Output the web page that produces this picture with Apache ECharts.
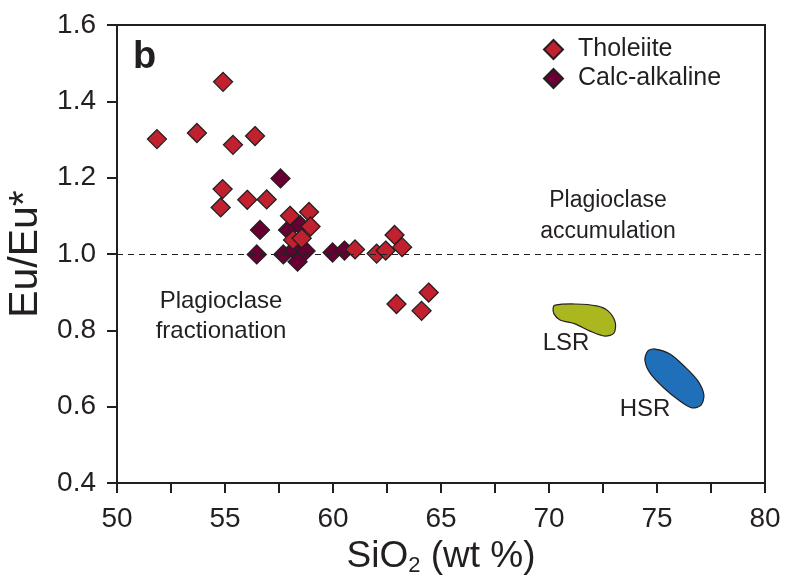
<!DOCTYPE html>
<html>
<head>
<meta charset="utf-8">
<script src="https://cdn.jsdelivr.net/npm/echarts@6/dist/echarts.min.js"></script>
<style>
  html, body { margin: 0; padding: 0; background: #fff; }
  #chart { width: 787px; height: 581px; }
</style>
</head>
<body>
<div id="chart"></div>
<script>
// SiO2 (wt %), Eu/Eu*
var tholeiite = [
  [51.85, 1.301], [53.70, 1.317], [54.91, 1.451], [55.37, 1.286], [56.39, 1.309],
  [54.89, 1.170], [54.80, 1.122], [56.03, 1.142], [56.93, 1.143],
  [58.01, 1.100], [58.89, 1.110], [58.96, 1.072], [58.15, 1.037], [58.55, 1.041],
  [61.02, 1.012], [62.02, 1.001], [62.44, 1.009], [62.85, 1.050], [63.20, 1.018],
  [62.94, 0.869], [64.10, 0.851], [64.43, 0.899]
];
var calcAlkaline = [
  [57.57, 1.198], [56.62, 1.063], [56.47, 0.999], [57.70, 0.999], [57.92, 1.063],
  [58.47, 1.076], [58.19, 1.011], [58.73, 1.008], [58.36, 0.980],
  [59.98, 1.004], [60.53, 1.009]
];
// outline of the LSR and HSR fields
var lsrField = [
  [70.28, 0.866], [71.20, 0.869], [72.21, 0.864], [72.73, 0.851], [73.06, 0.822],
  [73.01, 0.793], [72.59, 0.785], [71.90, 0.798], [71.20, 0.817], [70.51, 0.827],
  [70.23, 0.843], [70.19, 0.858]
];
var hsrField = [
  [74.91, 0.751], [75.60, 0.738], [76.30, 0.704], [76.90, 0.667], [77.17, 0.631],
  [77.04, 0.604], [76.62, 0.597], [76.06, 0.615], [75.32, 0.649], [74.68, 0.688],
  [74.44, 0.722], [74.58, 0.746]
];
var xTicks = [50, 55, 60, 65, 70, 75, 80];
var yTicks = [0.4, 0.6, 0.8, 1.0, 1.2, 1.4, 1.6];

var ink = "#231f20";
var font = "Liberation Sans, Arial, sans-serif";

function fieldSeries(name, pts, color) {
  return {
    name: name,
    type: "custom",
    silent: true,
    z: 1,
    renderItem: function (params, api) {
      if (params.dataIndex > 0) return;
      var points = pts.map(function (p) { return api.coord(p); });
      return {
        type: "polygon",
        shape: { points: points, smooth: 0.3 },
        style: { fill: color, stroke: ink, lineWidth: 1.2 }
      };
    },
    data: [0]
  };
}

var chart = echarts.init(document.getElementById("chart"));
chart.setOption({
  animation: false,
  textStyle: { fontFamily: font },
  grid: {
    left: 117, right: 22, top: 25, bottom: 98,
    containLabel: false, outerBoundsMode: "none",
    show: true, borderColor: ink, borderWidth: 2
  },
  legend: {
    orient: "vertical",
    left: 538, top: 32,
    itemWidth: 19, itemHeight: 19, itemGap: 4,
    icon: "diamond",
    data: ["Tholeiite", "Calc-alkaline"],
    textStyle: { fontSize: 25, color: ink, fontFamily: font, padding: [0, 0, 0, 10] }
  },
  xAxis: {
    type: "value", min: xTicks[0], max: xTicks[xTicks.length - 1], interval: 2.5,
    name: "{a|SiO}{s|2}{a| (wt %)}",
    nameLocation: "middle", nameGap: 42,
    nameTextStyle: {
      rich: {
        a: { fontSize: 37, color: ink, fontFamily: font },
        s: { fontSize: 22, color: ink, fontFamily: font, verticalAlign: "bottom", padding: [20, 0, 0, 0] }
      }
    },
    axisLine: { lineStyle: { color: ink, width: 2 } },
    axisTick: { inside: false, length: 10, lineStyle: { color: ink, width: 2 } },
    axisLabel: {
      fontSize: 28, color: ink, margin: 22,
      formatter: function (v) { return xTicks.indexOf(v) >= 0 ? String(v) : ""; }
    },
    splitLine: { show: false }
  },
  yAxis: {
    type: "value", min: yTicks[0], max: yTicks[yTicks.length - 1], interval: 0.2,
    name: "Eu/Eu*", nameLocation: "middle", nameGap: 66,
    nameTextStyle: { fontSize: 41, color: ink, fontFamily: font },
    axisLine: { lineStyle: { color: ink, width: 2 } },
    axisTick: { inside: false, length: 10, lineStyle: { color: ink, width: 2 } },
    axisLabel: {
      fontSize: 28, color: ink, margin: 21,
      formatter: function (v) { return v.toFixed(1); }
    },
    splitLine: { show: false }
  },
  graphic: [
    { type: "text", left: 133, top: 39, style: { text: "b", font: "bold 38px " + font, fill: ink } },
    { type: "text", x: 608, y: 216, style: { text: "Plagioclase\naccumulation", font: "23px " + font, fill: ink, align: "center", verticalAlign: "middle", lineHeight: 31 } },
    { type: "text", x: 221, y: 316, style: { text: "Plagioclase\nfractionation", font: "24px " + font, fill: ink, align: "center", verticalAlign: "middle", lineHeight: 30 } },
    { type: "text", x: 566, y: 343, style: { text: "LSR", font: "24px " + font, fill: ink, align: "center", verticalAlign: "middle" } },
    { type: "text", x: 645, y: 409, style: { text: "HSR", font: "24px " + font, fill: ink, align: "center", verticalAlign: "middle" } }
  ],
  series: [
    fieldSeries("LSR", lsrField, "#aab71f"),
    fieldSeries("HSR", hsrField, "#1f70b9"),
    {
      name: "Tholeiite",
      type: "scatter",
      symbol: "diamond",
      symbolSize: 19,
      z: 3,
      itemStyle: { color: "#c1202f", borderColor: ink, borderWidth: 1.3, opacity: 1 },
      data: tholeiite,
      markLine: {
        silent: true,
        symbol: "none",
        label: { show: false },
        lineStyle: { color: ink, type: [6, 5], width: 1 },
        data: [{ yAxis: 1.0 }]
      }
    },
    {
      name: "Calc-alkaline",
      type: "scatter",
      symbol: "diamond",
      symbolSize: 19,
      z: 2,
      itemStyle: { color: "#660033", borderColor: ink, borderWidth: 1.3, opacity: 1 },
      data: calcAlkaline
    }
  ]
});
</script>
</body>
</html>
